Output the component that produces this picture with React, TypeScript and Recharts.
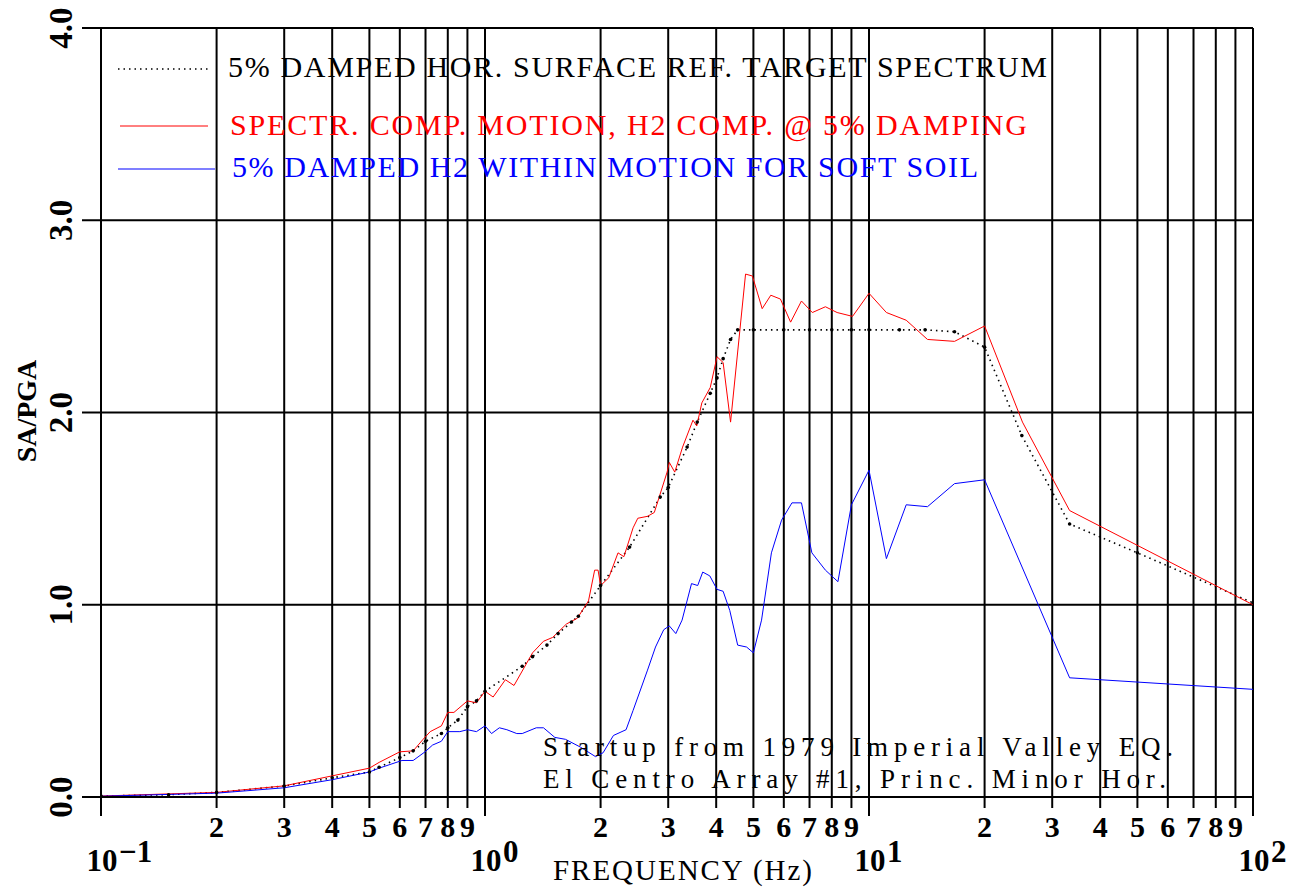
import React from 'react';
import { LineChart, Line, XAxis, YAxis, CartesianGrid } from 'recharts';

// frequency (Hz) / SA/PGA
const TARGET_FREQ = [0.1, 0.15, 0.2, 0.3, 0.4, 0.5, 0.53, 0.6, 0.65, 0.7, 0.77, 0.8, 0.85, 0.9, 0.95, 1.0, 1.25, 1.33, 1.45, 1.55, 1.68, 1.75, 2.0, 2.38, 2.86, 3.0, 3.36, 3.57, 3.86, 4.02, 4.17, 4.36, 4.55, 5, 6, 7, 8, 9, 10, 12, 14, 16.7, 20, 25, 33.3, 50, 100];
const TARGET_SA = [0.005, 0.012, 0.024, 0.057, 0.1, 0.13, 0.155, 0.205, 0.24, 0.29, 0.33, 0.36, 0.4, 0.47, 0.5, 0.55, 0.68, 0.73, 0.79, 0.85, 0.91, 0.94, 1.1, 1.3, 1.56, 1.61, 1.82, 1.95, 2.1, 2.18, 2.28, 2.38, 2.43, 2.43, 2.43, 2.43, 2.43, 2.43, 2.43, 2.43, 2.43, 2.42, 2.34, 1.88, 1.42, 1.27, 1.01];

const RED_FREQ = [0.1, 0.2, 0.3, 0.4, 0.5, 0.53, 0.6, 0.65, 0.69, 0.72, 0.77, 0.8, 0.83, 0.9, 0.95, 1.0, 1.05, 1.13, 1.19, 1.33, 1.42, 1.5, 1.63, 1.74, 1.86, 1.93, 1.97, 2.0, 2.1, 2.22, 2.3, 2.43, 2.5, 2.65, 2.76, 2.98, 3.02, 3.12, 3.27, 3.48, 3.56, 3.67, 3.86, 4.02, 4.17, 4.36, 4.77, 4.97, 5.27, 5.55, 5.88, 6.25, 6.67, 7.12, 7.7, 8.26, 9.06, 10, 11.1, 12.5, 14.2, 16.7, 20, 25.1, 33.3, 100];
const RED_SA = [0.005, 0.024, 0.058, 0.11, 0.15, 0.18, 0.235, 0.24, 0.3, 0.34, 0.37, 0.44, 0.44, 0.5, 0.49, 0.55, 0.52, 0.61, 0.58, 0.75, 0.81, 0.83, 0.9, 0.93, 1.02, 1.18, 1.18, 1.1, 1.14, 1.27, 1.25, 1.4, 1.45, 1.46, 1.48, 1.69, 1.74, 1.69, 1.82, 1.96, 1.93, 2.05, 2.13, 2.29, 2.26, 1.95, 2.72, 2.71, 2.54, 2.61, 2.59, 2.47, 2.58, 2.52, 2.55, 2.52, 2.5, 2.62, 2.52, 2.48, 2.38, 2.37, 2.45, 1.95, 1.49, 1.0];

const BLUE_FREQ = [0.1, 0.2, 0.3, 0.4, 0.5, 0.53, 0.608, 0.65, 0.698, 0.73, 0.77, 0.8, 0.86, 0.9, 0.95, 1.0, 1.04, 1.09, 1.14, 1.21, 1.25, 1.36, 1.42, 1.52, 1.62, 1.77, 1.94, 2.03, 2.16, 2.33, 2.43, 2.65, 2.78, 2.92, 3.02, 3.14, 3.26, 3.45, 3.58, 3.69, 3.85, 4.02, 4.17, 4.34, 4.55, 4.8, 5.0, 5.25, 5.57, 5.92, 6.3, 6.67, 7.1, 7.7, 8.3, 9.0, 10, 11.1, 12.5, 14.2, 16.7, 20, 33.3, 100];
const BLUE_SA = [0.004, 0.02, 0.048, 0.09, 0.13, 0.15, 0.19, 0.19, 0.235, 0.27, 0.29, 0.34, 0.34, 0.35, 0.34, 0.37, 0.33, 0.36, 0.35, 0.33, 0.33, 0.36, 0.36, 0.31, 0.3, 0.26, 0.21, 0.23, 0.32, 0.35, 0.45, 0.66, 0.78, 0.87, 0.89, 0.85, 0.92, 1.11, 1.1, 1.17, 1.15, 1.08, 1.07, 0.97, 0.79, 0.78, 0.75, 0.92, 1.27, 1.44, 1.53, 1.53, 1.27, 1.18, 1.12, 1.52, 1.7, 1.24, 1.52, 1.51, 1.63, 1.65, 0.62, 0.56];

const DECADES = [0.1, 1, 10];
const MULTS = [1, 2, 3, 4, 5, 6, 7, 8, 9];
const Y_TICKS = [0, 1, 2, 3, 4];
const DECADE_EXP: Record<string, string> = { '0.1': '\u22121', '1': '0', '10': '1', '100': '2' };

const X_TICKS = [...DECADES.flatMap((d) => MULTS.map((m) => +(d * m).toPrecision(3))), 100];

const toRows = (f: number[], v: number[]) => f.map((x, i) => ({ f: x, v: v[i] }));
const targetData = toRows(TARGET_FREQ, TARGET_SA);
const redData = toRows(RED_FREQ, RED_SA);
const blueData = toRows(BLUE_FREQ, BLUE_SA);

const W = 1304;
const H = 891;
const LEFT = 101;
const BOTTOM = 797;
const FONT = '"Liberation Serif", "DejaVu Serif", serif';

const XTick = (props: any) => {
  const { x, payload } = props;
  const val = payload.value;
  const exp = DECADE_EXP[String(val)];
  if (exp !== undefined) {
    return (
      <g>
        <line x1={x} x2={x} y1={BOTTOM} y2={BOTTOM + 19} stroke="#000" strokeWidth={2} />
        <text x={x + 1} y={871} textAnchor="middle" fontFamily={FONT} fontSize={31} fontWeight="bold" fill="#000">10</text>
        <text x={x + 18} y={862} textAnchor="start" fontFamily={FONT} fontSize={31} fontWeight="bold" fill="#000">{exp}</text>
      </g>
    );
  }
  const digit = Math.round(val / Math.pow(10, Math.floor(Math.log10(val) + 1e-9)));
  return (
    <g>
      <line x1={x} x2={x} y1={BOTTOM} y2={BOTTOM + 11} stroke="#000" strokeWidth={2} />
      <text x={x} y={837} textAnchor="middle" fontFamily={FONT} fontSize={30} fontWeight="bold" fill="#000">{digit}</text>
    </g>
  );
};

const YTick = (props: any) => {
  const { y, payload } = props;
  return (
    <g>
      <line x1={82} x2={LEFT} y1={y} y2={y} stroke="#000" strokeWidth={2} />
      <text x={72} y={y} transform={`rotate(-90 72 ${y})`} textAnchor="middle" fontFamily={FONT} fontSize={33} fontWeight="bold" fill="#000">
        {payload.value.toFixed(1)}
      </text>
    </g>
  );
};

const txt = { fontFamily: FONT, fontSize: 30 };

export default function App() {
  return (
    <div style={{ position: 'absolute', left: 0, top: 0, width: W, height: H, background: '#fff' }}>
      <LineChart width={W} height={H} margin={{ top: 28, right: 51, bottom: 0, left: 0 }}>
        <CartesianGrid stroke="#000" strokeWidth={2} />
        <XAxis
          dataKey="f"
          type="number"
          scale="log"
          domain={[0.1, 100]}
          ticks={X_TICKS}
          interval={0}
          allowDataOverflow
          height={94}
          axisLine={{ stroke: '#000', strokeWidth: 2 }}
          tickLine={false}
          tick={<XTick />}
        />
        <YAxis
          type="number"
          domain={[0, 4]}
          ticks={Y_TICKS}
          interval={0}
          width={101}
          axisLine={{ stroke: '#000', strokeWidth: 2 }}
          tickLine={false}
          tick={<YTick />}
        />
        <Line data={targetData} dataKey="v" stroke="#000" strokeWidth={1.6} strokeDasharray="1.5 4"
          dot={{ r: 1.8, fill: '#000', stroke: 'none' }} isAnimationActive={false} />
        <Line data={redData} dataKey="v" stroke="#ff0000" strokeWidth={1} dot={false} isAnimationActive={false} />
        <Line data={blueData} dataKey="v" stroke="#0000ff" strokeWidth={1} dot={false} isAnimationActive={false} />
      </LineChart>

      <svg width={W} height={H} style={{ position: 'absolute', left: 0, top: 0, pointerEvents: 'none' }}>
        <line x1={118} x2={208} y1={69} y2={69} stroke="#000" strokeWidth={1.6} strokeDasharray="1.5 4" />
        <text x={228} y={77} textLength={819} lengthAdjust="spacing" fill="#000" {...txt}>5% DAMPED HOR. SURFACE REF. TARGET SPECTRUM</text>
        <line x1={120} x2={208} y1={126} y2={126} stroke="#ff0000" strokeWidth={1} />
        <text x={230} y={135} textLength={797} lengthAdjust="spacing" fill="#ff0000" {...txt}>SPECTR. COMP. MOTION, H2 COMP. @ 5% DAMPING</text>
        <line x1={118} x2={215} y1={169} y2={169} stroke="#0000ff" strokeWidth={1.2} />
        <text x={232} y={177} textLength={746} lengthAdjust="spacing" fill="#0000ff" {...txt}>5% DAMPED H2 WITHIN MOTION FOR SOFT SOIL</text>

        <text x={543} y={756} textLength={630} lengthAdjust="spacing" fill="#000" fontFamily={FONT} fontSize={27}>Startup from 1979 Imperial Valley EQ.</text>
        <text x={543} y={788} textLength={623} lengthAdjust="spacing" fill="#000" fontFamily={FONT} fontSize={27}>El Centro Array #1, Princ. Minor Hor.</text>

        <text x={553} y={880} textLength={259} lengthAdjust="spacing" fill="#000" fontFamily={FONT} fontSize={29}>FREQUENCY (Hz)</text>
        <text x={36} y={411} transform="rotate(-90 36 411)" textAnchor="middle" fontFamily={FONT} fontSize={28} fontWeight="bold" fill="#000">SA/PGA</text>
      </svg>
    </div>
  );
}
